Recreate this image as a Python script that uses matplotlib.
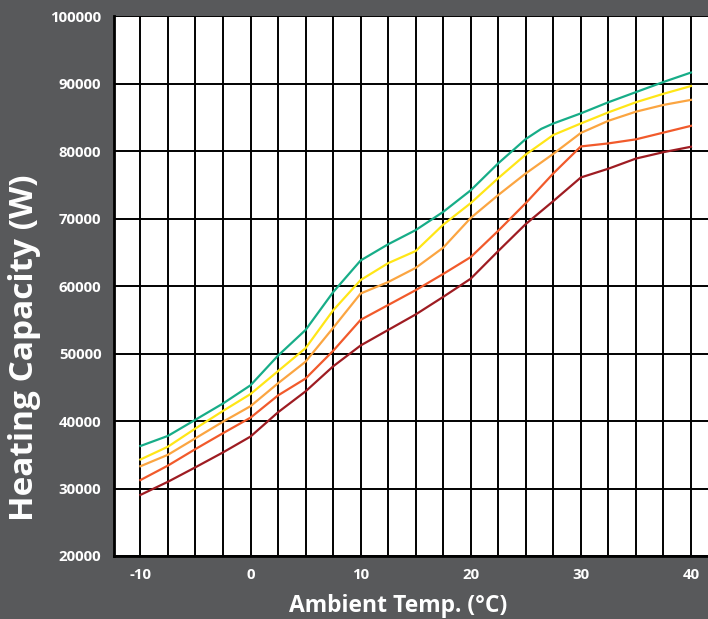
import matplotlib
matplotlib.use('Agg')
import matplotlib.pyplot as plt
import numpy as np

# ambient temperature (deg C)
temps = [-10, -7.5, -5, -2.5, 0, 2.5, 5, 7.5, 10, 12.5, 15, 17.5, 20,
         22.5, 25, 27.5, 30, 32.5, 35, 37.5, 40]
temps_green = [-10, -7.5, -5, -2.5, 0, 2.5, 5, 7.5, 10, 12.5, 15, 17.5, 20,
               22.5, 25, 26.4, 27.5, 30, 32.5, 35, 37.5, 40]

# heating capacity (W)
cap_green = [36300, 37800, 40200, 42600, 45300, 49700, 53500, 59100, 63800,
             66200, 68300, 71000, 74200, 78200, 81800, 83300, 84100, 85600,
             87250, 88750, 90250, 91650]
cap_yellow = [34300, 36200, 38900, 41500, 44000, 47400, 50800, 56400, 60900,
              63400, 65200, 69100, 72300, 76000, 79500, 82400, 84100, 85750,
              87250, 88500, 89650]
cap_orange = [33300, 35000, 37450, 39900, 42200, 45600, 48800, 53800, 58900,
              60600, 62700, 65700, 70100, 73500, 76700, 79600, 82700, 84500,
              85850, 86850, 87600]
cap_redorange = [31250, 33400, 35850, 38200, 40500, 43800, 46300, 50400, 55000,
                 57200, 59400, 61800, 64300, 68200, 72300, 76700, 80700, 81150,
                 81750, 82750, 83750]
cap_darkred = [29050, 31000, 33150, 35350, 37700, 41300, 44400, 48100, 51200,
               53500, 55800, 58400, 61100, 65200, 69200, 72600, 76100, 77400,
               78900, 79850, 80650]

xticks = [-10, 0, 10, 20, 30, 40]
yticks = [20000, 30000, 40000, 50000, 60000, 70000, 80000, 90000, 100000]

bg = '#58595b'
plt.rcParams['font.family'] = ['Open Sans', 'DejaVu Sans']
plt.rcParams['axes.unicode_minus'] = False

fig = plt.figure(figsize=(7.08, 6.19), dpi=100, facecolor=bg)
ax = fig.add_axes([0.161, 0.1018, 0.839, 0.872])
ax.set_facecolor('white')

ax.plot(temps, cap_darkred, color='#9e1c22', lw=1.6, zorder=3)
ax.plot(temps, cap_redorange, color='#f15a2b', lw=1.6, zorder=3)
ax.plot(temps, cap_orange, color='#fba541', lw=1.6, zorder=3)
ax.plot(temps, cap_yellow, color='#ffe617', lw=1.6, zorder=3)
ax.plot(temps_green, cap_green, color='#17ad88', lw=1.6, zorder=3)

ax.set_xlim(-12.4, 41.55)
ax.set_ylim(20000, 100000)
ax.set_xticks(xticks)
ax.set_xticks(np.arange(-10, 40.1, 2.5), minor=True)
ax.set_yticks(yticks)
ax.grid(True, which='both', axis='x', color='black', lw=1.4, zorder=1)
ax.grid(True, which='major', axis='y', color='black', lw=1.4, zorder=1)
ax.set_axisbelow(True)

ax.tick_params(which='both', length=0, colors='white', labelsize=10.8, pad=9)
for lab in ax.get_xticklabels() + ax.get_yticklabels():
    lab.set_fontweight('bold')

for s in ['top', 'right']:
    ax.spines[s].set_visible(False)
for s in ['left', 'bottom']:
    ax.spines[s].set_color('black')
    ax.spines[s].set_linewidth(2)

ax.set_xlabel('Ambient Temp. (°C)', color='white', fontsize=16.5,
              fontweight='bold', va='center')
ax.xaxis.set_label_coords(0.478, -0.0926)
ax.set_ylabel('Heating Capacity (W)', color='white', fontsize=24,
              fontweight='bold', va='center')
ax.yaxis.set_label_coords(-0.150, 0.385)

fig.savefig('out.png', dpi=100, facecolor=bg)
